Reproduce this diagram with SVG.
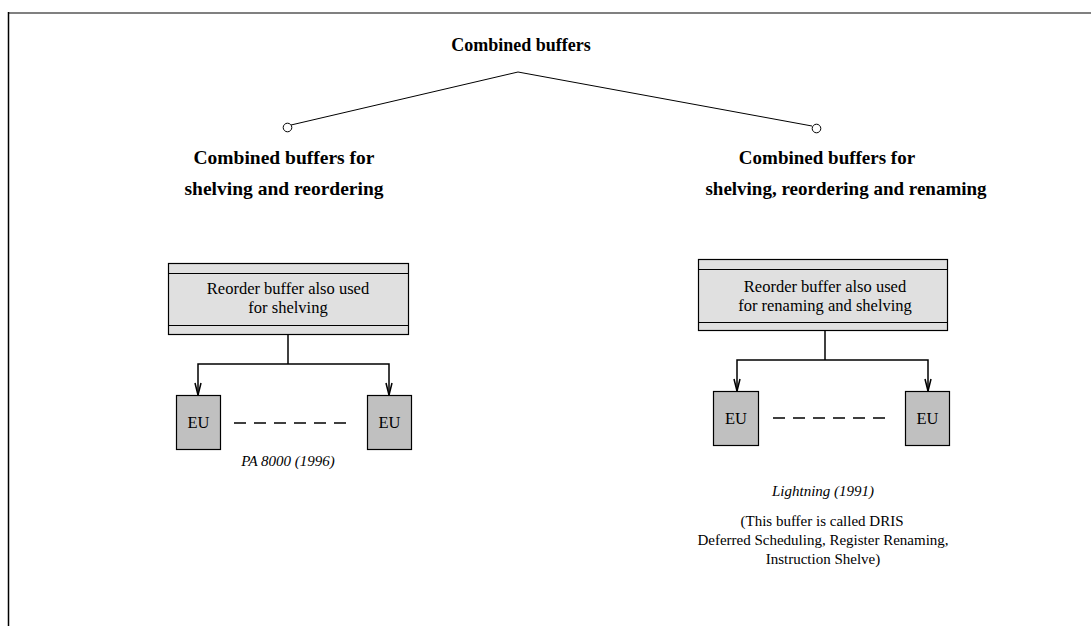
<svg xmlns="http://www.w3.org/2000/svg" width="1091" height="626" viewBox="0 0 1091 626">
  <style>
    .title { font-family: "Liberation Serif", "Times New Roman", serif; font-weight: bold; font-size: 18px; fill: #000; text-anchor: middle; }
    .bold { font-family: "Liberation Serif", "Times New Roman", serif; font-weight: bold; font-size: 19.5px; fill: #000; text-anchor: middle; }
    .bold-r { font-size: 19px; }
    .txt { font-family: "Liberation Serif", "Times New Roman", serif; font-size: 16.5px; fill: #000; text-anchor: middle; }
    .ital { font-family: "Liberation Serif", "Times New Roman", serif; font-style: italic; font-size: 15px; fill: #000; text-anchor: middle; }
    .note { font-family: "Liberation Serif", "Times New Roman", serif; font-size: 15px; fill: #000; text-anchor: middle; }
    .buf { fill: #e0e0e0; stroke: #000; stroke-width: 1.2; }
    .eu { fill: #c0c0c0; stroke: #000; stroke-width: 1.2; }
    .wire { fill: none; stroke: #000; stroke-width: 1.5; }
    .head { fill: none; stroke: #000; stroke-width: 1.5; }
    .dash { stroke: #000; stroke-width: 1.3; stroke-dasharray: 12 8; }
    .thin { fill: none; stroke: #000; stroke-width: 1; }
  </style>

  <!-- page frame -->
  <line x1="8" y1="13" x2="1091" y2="13" stroke="#808080" stroke-width="2"/>
  <line x1="8.5" y1="12" x2="8.5" y2="626" stroke="#000" stroke-width="1.5"/>

  <g id="root">
    <text class="title" x="521" y="51">Combined buffers</text>
  </g>

  <g id="connectors">
    <!-- classification tree -->
    <polyline class="thin" points="291,125 518,72 812,126"/>
    <circle class="thin" cx="287.5" cy="127.5" r="4.3" fill="#fff"/>
    <circle class="thin" cx="816.5" cy="128.5" r="4.3" fill="#fff"/>

    <!-- left distribution -->
    <polyline class="wire" points="288,335 288,364"/>
    <polyline class="wire" points="198,395 198,364 389,364 389,395"/>
    <path class="head" d="M195,383 L198,395 L201,383"/>
    <path class="head" d="M386,383 L389,395 L392,383"/>

    <!-- right distribution -->
    <polyline class="wire" points="825,331 825,360"/>
    <polyline class="wire" points="737,391 737,360 928,360 928,391"/>
    <path class="head" d="M734,379 L737,391 L740,379"/>
    <path class="head" d="M925,379 L928,391 L931,379"/>

    <!-- EU ellipsis -->
    <line class="dash" x1="234" y1="423" x2="346" y2="423"/>
    <line class="dash" x1="773" y1="418" x2="885" y2="418"/>
  </g>

  <g id="left-branch">
    <text class="bold" x="284" y="164">Combined buffers for</text>
    <text class="bold" x="284" y="195">shelving and reordering</text>
  </g>

  <g id="right-branch">
    <text class="bold bold-r" x="827" y="164">Combined buffers for</text>
    <text class="bold bold-r" x="846" y="195">shelving, reordering and renaming</text>
  </g>

  <g id="left-buffer">
    <rect class="buf" x="168.5" y="263.5" width="240" height="71"/>
    <line class="thin" x1="168.5" y1="273.5" x2="408.5" y2="273.5"/>
    <line class="thin" x1="168.5" y1="325.5" x2="408.5" y2="325.5"/>
    <text class="txt" x="288" y="294">Reorder buffer also used</text>
    <text class="txt" x="288" y="313">for shelving</text>
  </g>

  <g id="left-eu1">
    <rect class="eu" x="176.5" y="395.5" width="44" height="54"/>
    <text class="txt" x="198.5" y="428">EU</text>
  </g>
  <g id="left-eu2">
    <rect class="eu" x="367.5" y="395.5" width="44" height="54"/>
    <text class="txt" x="389.5" y="428">EU</text>
  </g>
  <g id="left-caption">
    <text class="ital" x="288" y="466">PA 8000 (1996)</text>
  </g>

  <g id="right-buffer">
    <rect class="buf" x="698.5" y="259.5" width="249" height="71"/>
    <line class="thin" x1="698.5" y1="269.5" x2="947.5" y2="269.5"/>
    <line class="thin" x1="698.5" y1="322.5" x2="947.5" y2="322.5"/>
    <text class="txt" x="825" y="292">Reorder buffer also used</text>
    <text class="txt" x="825" y="311">for renaming and shelving</text>
  </g>

  <g id="right-eu1">
    <rect class="eu" x="713.5" y="391.5" width="45" height="54"/>
    <text class="txt" x="736" y="424">EU</text>
  </g>
  <g id="right-eu2">
    <rect class="eu" x="905.5" y="391.5" width="44" height="54"/>
    <text class="txt" x="927.5" y="424">EU</text>
  </g>
  <g id="right-caption">
    <text class="ital" x="823" y="496">Lightning (1991)</text>
    <text class="note" x="822" y="526">(This buffer is called DRIS</text>
    <text class="note" x="823" y="545">Deferred Scheduling, Register Renaming,</text>
    <text class="note" x="823" y="564">Instruction Shelve)</text>
  </g>
</svg>
